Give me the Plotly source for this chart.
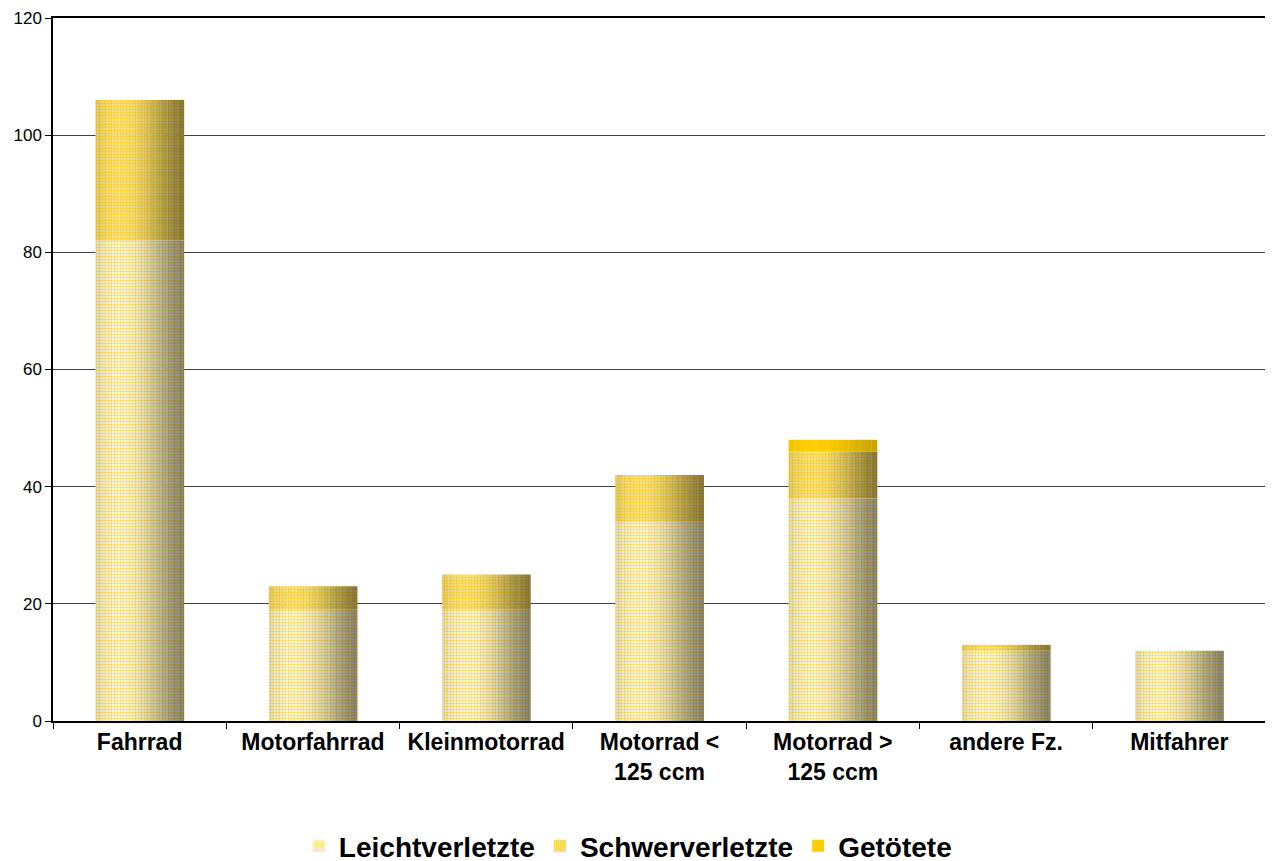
import math
import plotly.graph_objects as go

categories = ["Fahrrad", "Motorfahrrad", "Kleinmotorrad", "Motorrad &lt;<br>125 ccm",
              "Motorrad &gt;<br>125 ccm", "andere Fz.", "Mitfahrer"]
leichtverletzte = [82, 19, 19, 34, 38, 12, 12]
schwerverletzte = [24, 4, 6, 8, 8, 1, 0]
getoetete = [0, 0, 0, 0, 2, 0, 0]
y_ticks = [0, 20, 40, 60, 80, 100, 120]

series = [
    ("Leichtverletzte", leichtverletzte),
    ("Schwerverletzte", schwerverletzte),
    ("Getötete", getoetete),
]

# style: (bg light rgb, pattern fg rgb, darkest shade, solidity)
styles = {
    "Leichtverletzte": ((248, 246, 236), (255, 214, 40), 0.45, 0.35),
    "Schwerverletzte": ((244, 228, 160), (255, 208, 20), 0.45, 0.45),
    "Getötete": ((255, 206, 0), None, 0.75, 0),
}

BAR_W = 0.51
N = 16


def shade(t, lo):
    c = math.cos(math.pi * (t - 0.28))
    mid = lo + (1 - lo) * 0.45
    if c >= 0:
        return lo + (1 - lo) * (0.45 + 0.55 * c)
    return lo + (mid - lo) * (1 + c)


def rgbs(col, s):
    return "rgb(%d,%d,%d)" % tuple(min(255, int(round(v * s))) for v in col)


fig = go.Figure()
bases = [0] * len(categories)
for name, vals in series:
    bg, fg, lo, sol = styles[name]
    for i in range(N):
        t = (i + 0.5) / N
        s = shade(t, lo)
        col = rgbs(bg, s)
        marker = dict(color=col, line=dict(width=0))
        if fg is not None:
            marker["pattern"] = dict(shape=".", fgcolor=rgbs(fg, s), bgcolor=col, size=3,
                                     solidity=sol, fillmode="replace")
        show = (i == 4)
        fig.add_trace(go.Bar(
            x=categories, y=vals, base=list(bases),
            width=BAR_W / N + 0.002, offset=-BAR_W / 2 + i * BAR_W / N,
            name="<b>" + name + "</b>", legendgroup=name, showlegend=show,
            marker=marker, hoverinfo="skip",
        ))
    bases = [b + v for b, v in zip(bases, vals)]

fig.update_layout(
    barmode="overlay",
    width=1265, height=872,
    margin=dict(l=45, r=7, t=10, b=159, autoexpand=False),
    paper_bgcolor="white", plot_bgcolor="white",
    font=dict(family="Liberation Sans, Arial, sans-serif", color="black"),
    showlegend=True,
    legend=dict(orientation="h", xref="container", x=0.49, xanchor="center",
                yref="container", y=1 - 838 / 872, yanchor="middle",
                font=dict(size=28, family="Liberation Sans, Arial, sans-serif"),
                itemsizing="constant", traceorder="normal", tracegroupgap=0),
    xaxis=dict(
        type="category", categoryorder="array", categoryarray=categories,
        tickfont=dict(size=23, weight="bold"), tickson="boundaries", ticks="outside", ticklen=6,
        tickcolor="black", showline=True, linecolor="black", linewidth=1.5, mirror=True,
        showgrid=False, automargin=False,
    ),
    yaxis=dict(
        range=[0, 120], tickmode="array", tickvals=y_ticks,
        tickfont=dict(size=17), ticks="outside", ticklen=6, tickcolor="black",
        showline=True, linecolor="black", linewidth=1.5, mirror=True,
        showgrid=True, gridcolor="#404040", gridwidth=1, zeroline=False, automargin=False,
    ),
)

fig.write_html("out.html")
